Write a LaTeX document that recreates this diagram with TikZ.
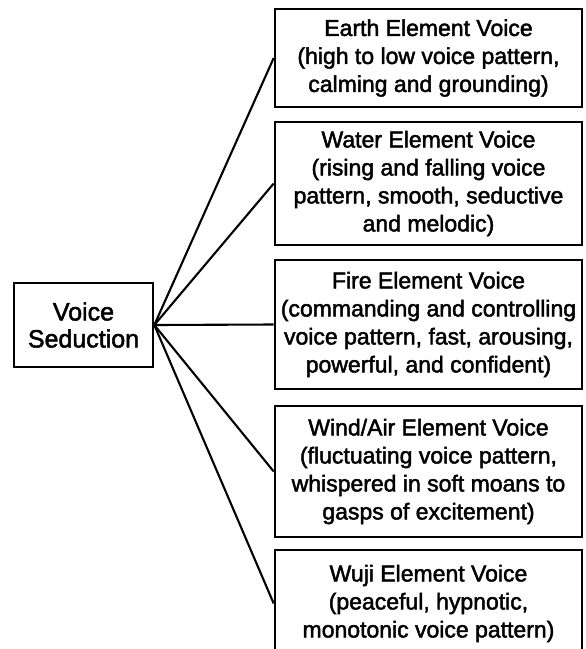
\documentclass[tikz,border=0pt]{standalone}
\usepackage{fontspec}
\setmainfont{Liberation Sans}
\newfontfamily\boldish[FakeBold=2]{Liberation Sans}
\begin{document}
\begin{tikzpicture}[x=1pt,y=-1pt,
  elbox/.style={draw, line width=2.6pt, align=center, inner sep=0pt,
    font=\boldish\fontsize{23}{28}\selectfont, minimum width=307pt},
  rootbox/.style={draw, line width=2.6pt, align=center, inner sep=0pt,
    font=\boldish\fontsize{25}{27}\selectfont, minimum width=139pt, minimum height=84pt},
  link/.style={line width=2.1pt}]
\useasboundingbox (0,0) rectangle (586,649);
\clip (0,0) rectangle (586,649);
\fill[white] (0,0) rectangle (586,649);
\node[rootbox] (vs) at (83.5,325) {Voice\\Seduction};
\node[elbox, minimum height=98pt] (earth) at (428.5,58) {Earth Element Voice\\(high to low voice pattern,\\calming and grounding)};
\node[elbox, minimum height=123pt] (water) at (428.5,183.5) {Water Element Voice\\(rising and falling voice\\pattern, smooth, seductive\\and melodic)};
\node[elbox, minimum height=129pt] (fire) at (428.5,324.5) {Fire Element Voice\\(commanding and controlling\\voice pattern, fast, arousing,\\powerful, and confident)};
\node[elbox, minimum height=131pt] (wind) at (428.5,471.5) {Wind/Air Element Voice\\(fluctuating voice pattern,\\whispered in soft moans to\\gasps of excitement)};
\node[elbox, minimum height=107pt] (wuji) at (428.5,603.5) {Wuji Element Voice\\(peaceful, hypnotic,\\monotonic voice pattern)};
\foreach \t in {earth,water,fire,wind,wuji}
  \draw[link] (vs.east) -- (\t.west);
\end{tikzpicture}
\end{document}
